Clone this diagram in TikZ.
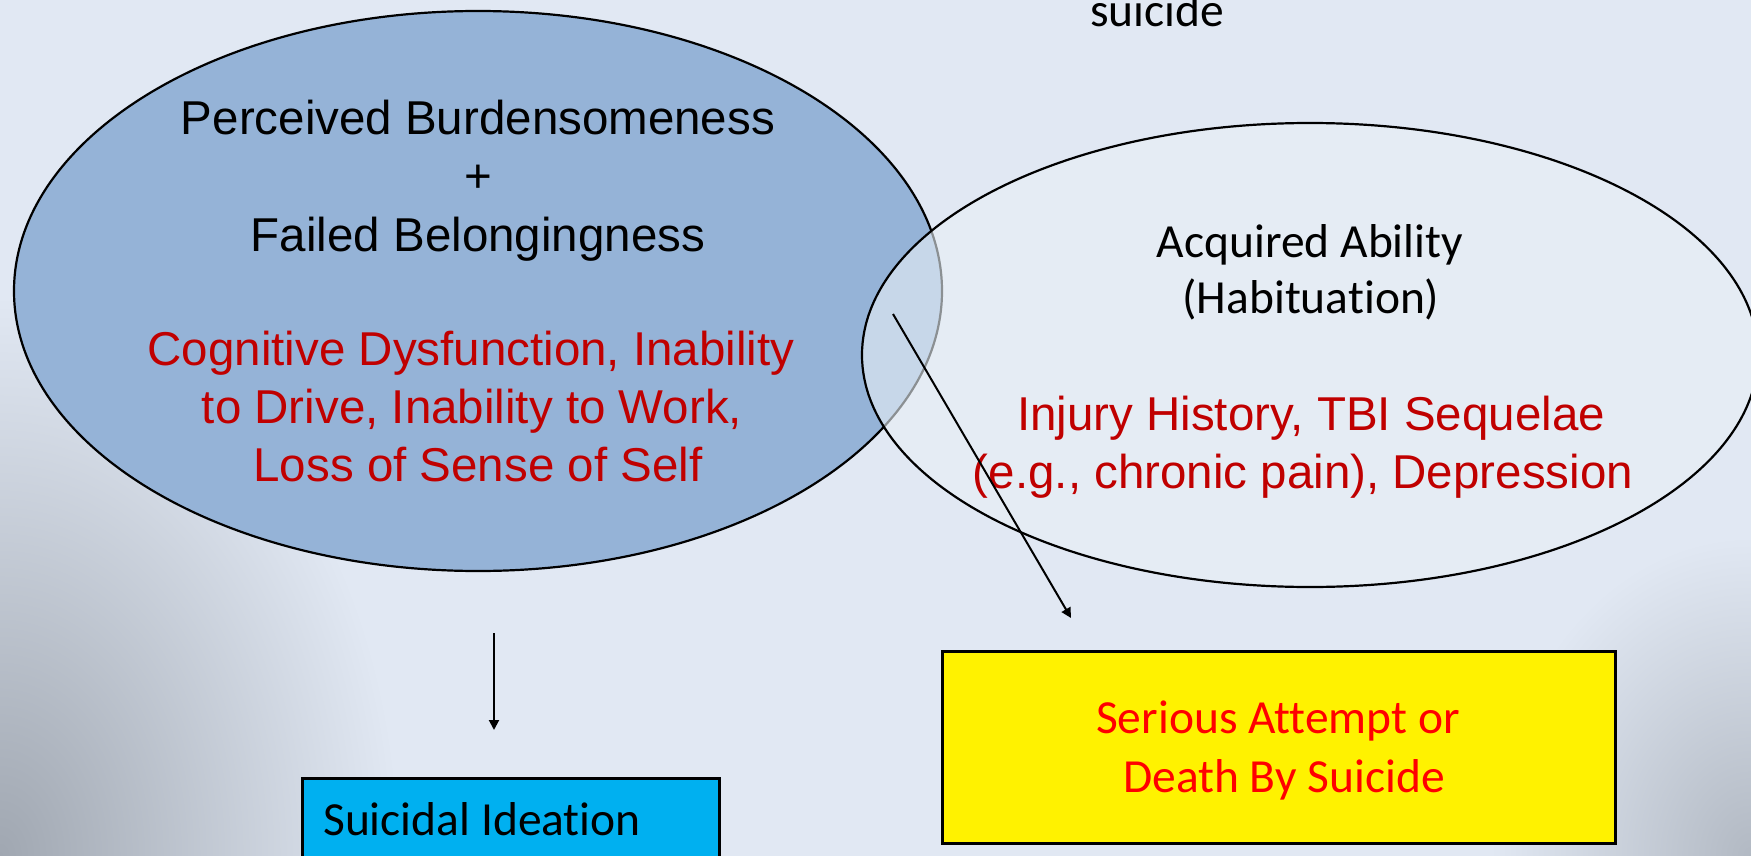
\documentclass[tikz,border=0pt]{standalone}
\usepackage{fontspec}
\usetikzlibrary{shapes.geometric,arrows.meta}
\newfontfamily\arialf{Liberation Sans}
\newfontfamily\calf[Ligatures=NoCommon]{Carlito}
\definecolor{bgc}{RGB}{225,232,243}
\definecolor{cornl}{RGB}{160,167,177}
\definecolor{cornr}{RGB}{178,185,195}
\definecolor{pbblue}{RGB}{149,179,215}
\definecolor{aafill}{RGB}{233,240,246}
\definecolor{darkred}{RGB}{192,0,0}
\definecolor{sicyan}{RGB}{0,176,240}
\begin{document}
\begin{tikzpicture}[x=1pt,y=-1pt,
  ariall/.style={font=\arialf\fontsize{47.5}{57}\selectfont, inner sep=0pt, anchor=base},
  calil/.style={font=\calf\fontsize{47.5}{57}\selectfont, inner sep=0pt, anchor=base},
  venn/.style={ellipse, draw=black, line width=2.2pt, inner sep=0pt},
  arr/.style={line width=2pt, -{Triangle[length=10pt,width=10pt]}},
  boxst/.style={rectangle, draw=black, line width=3pt, inner sep=0pt}
]
\useasboundingbox (0,0) rectangle (1751,856);
\clip (0,0) rectangle (1751,856);
\fill[bgc] (0,0) rectangle (1751,856);
\shade[inner color=cornl, outer color=bgc] (0,856) ellipse [x radius=400pt, y radius=560pt];
\shade[inner color=cornr, outer color=bgc] (1751,856) ellipse [x radius=260pt, y radius=320pt];

% top text
\node[calil] (top) at (1157,27) {suicide};

% ellipses
\node[venn, fill=pbblue, minimum width=928pt, minimum height=560pt] (pb) at (478,291) {};
\node[venn, fill=aafill, fill opacity=0.6, draw opacity=1, minimum width=896pt, minimum height=464pt] (aa) at (1310,355) {};

% left ellipse texts
\node[ariall] (pb1) at (478,135) {Perceived Burdensomeness};
\node[ariall] (pb2) at (478,193) {+};
\node[ariall] (pb3) at (478,251) {Failed Belongingness};
\node[ariall, text=darkred] (pb4) at (471,365) {Cognitive Dysfunction, Inability};
\node[ariall, text=darkred] (pb5) at (472,423) {to Drive, Inability to Work,};
\node[ariall, text=darkred] (pb6) at (478,481) {Loss of Sense of Self};

% right ellipse texts
\node[calil] (aa1) at (1310,257) {Acquired Ability};
\node[calil] (aa2) at (1311,313) {(Habituation)};
\node[ariall, text=darkred] (aa3) at (1311,430) {Injury History, TBI Sequelae};
\node[ariall, text=darkred] (aa4) at (1303,488) {(e.g., chronic pain), Depression};

% boxes
\node[boxst, fill=sicyan, minimum width=417pt, minimum height=150pt] (si) at (510.5,853) {};
\node[calil, anchor=base west] (sit) at (323,835) {Suicidal Ideation};
\node[boxst, fill=yellow, minimum width=673pt, minimum height=192pt] (sa) at (1278.5,747) {};
\node[calil, text=red] (sa1) at (1278,733) {Serious Attempt or};
\node[calil, text=red] (sa2) at (1284,792) {Death By Suicide};

% arrows
\coordinate (a1s) at (494,633);
\coordinate (a1e) at (494,730);
\coordinate (a2s) at (893,314);
\coordinate (a2e) at (1071,618);
\draw[arr] (a1s) -- (a1e);
\draw[arr] (a2s) -- (a2e);
\end{tikzpicture}
\end{document}
